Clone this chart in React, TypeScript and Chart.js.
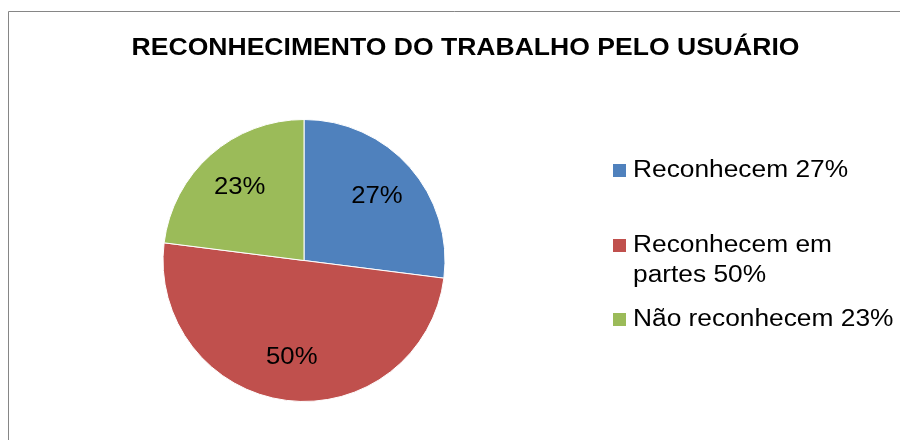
import React, { useEffect, useRef } from 'react';
import { Chart, registerables } from 'chart.js';

Chart.register(...registerables);

// ---- data ----
const TITLE = 'RECONHECIMENTO DO TRABALHO PELO USUÁRIO';
const CATEGORIES = ['Reconhecem', 'Reconhecem em partes', 'Não reconhecem'];
const VALUES = [27, 50, 23];
const COLORS = ['#4F81BD', '#C0504D', '#9BBB59'];

// ---- layout / style constants ----
const W = 892;
const H = 440;
const FONT = '"Liberation Sans", Arial, sans-serif';
const TITLE_SIZE = 23.5;
const TITLE_SCALE = 1.13;
const TITLE_X = 457.5;
const TITLE_BASELINE = 47;
const LEGEND_SIZE = 23.5;
const LEGEND_SCALE = 1.12;
const LEGEND_TEXT_X = 625;
const LEGEND_BOX_X = 605;
const LEGEND_BOX = 13;
const LEGEND_BASELINES = [169, 244, 318];
const LEGEND_LINE_H = 30;
const LEGEND_MAX_W = 268;
const LABEL_SIZE = 24.5;
const LABEL_SCALE = 1.05;
const LABEL_R = 0.69;

function fillStretched(ctx: CanvasRenderingContext2D, text: string, x: number, y: number, sx: number, align: CanvasTextAlign) {
  ctx.save();
  ctx.translate(x, y);
  ctx.scale(sx, 1);
  ctx.textAlign = align;
  ctx.fillText(text, 0, 0);
  ctx.restore();
}

function wrap(ctx: CanvasRenderingContext2D, text: string, maxW: number, sx: number): string[] {
  const words = text.split(' ');
  const lines: string[] = [];
  let cur = '';
  for (const w of words) {
    const t = cur ? cur + ' ' + w : w;
    if (cur && ctx.measureText(t).width * sx > maxW) {
      lines.push(cur);
      cur = w;
    } else cur = t;
  }
  if (cur) lines.push(cur);
  return lines;
}

const decorPlugin = {
  id: 'decor',
  beforeDraw(chart: any) {
    const ctx: CanvasRenderingContext2D = chart.ctx;
    ctx.save();
    ctx.fillStyle = '#ffffff';
    ctx.fillRect(0, 0, chart.width, chart.height);
    ctx.strokeStyle = '#868686';
    ctx.lineWidth = 1;
    ctx.beginPath();
    ctx.moveTo(0.5, chart.height);
    ctx.lineTo(0.5, 3.5);
    ctx.lineTo(chart.width, 3.5);
    ctx.stroke();
    ctx.restore();
  },
  afterDraw(chart: any) {
    const ctx: CanvasRenderingContext2D = chart.ctx;
    ctx.save();
    ctx.fillStyle = '#000000';
    ctx.textBaseline = 'alphabetic';

    // title
    ctx.font = `bold ${TITLE_SIZE}px ${FONT}`;
    fillStretched(ctx, TITLE, TITLE_X, TITLE_BASELINE, TITLE_SCALE, 'center');

    // data labels
    const meta = chart.getDatasetMeta(0);
    const total = VALUES.reduce((a, b) => a + b, 0);
    ctx.font = `${LABEL_SIZE}px ${FONT}`;
    ctx.textBaseline = 'middle';
    meta.data.forEach((arc: any, i: number) => {
      const p = arc.getProps(['x', 'y', 'startAngle', 'endAngle', 'outerRadius'], true);
      const mid = (p.startAngle + p.endAngle) / 2;
      const r = p.outerRadius * LABEL_R;
      const x = p.x + Math.cos(mid) * r;
      const y = p.y + Math.sin(mid) * r;
      const pct = Math.round((VALUES[i] / total) * 100);
      fillStretched(ctx, `${pct}%`, x, y, LABEL_SCALE, 'center');
    });

    // legend
    ctx.font = `${LEGEND_SIZE}px ${FONT}`;
    ctx.textBaseline = 'alphabetic';
    CATEGORIES.forEach((cat, i) => {
      const base = LEGEND_BASELINES[i];
      ctx.fillStyle = COLORS[i];
      ctx.fillRect(LEGEND_BOX_X, base - LEGEND_BOX, LEGEND_BOX, LEGEND_BOX);
      ctx.fillStyle = '#000000';
      const lines = wrap(ctx, `${cat} ${VALUES[i]}%`, LEGEND_MAX_W, LEGEND_SCALE);
      lines.forEach((ln, j) => {
        fillStretched(ctx, ln, LEGEND_TEXT_X, base + j * LEGEND_LINE_H, LEGEND_SCALE, 'left');
      });
    });
    ctx.restore();
  },
};

export default function App() {
  const ref = useRef<HTMLCanvasElement | null>(null);
  useEffect(() => {
    document.documentElement.style.overflow = 'hidden';
    const canvas = ref.current;
    if (!canvas) return;
    const chart = new Chart(canvas, {
      type: 'pie',
      data: {
        labels: CATEGORIES,
        datasets: [
          {
            data: VALUES,
            backgroundColor: COLORS,
            borderColor: '#ffffff',
            borderWidth: 1,
            radius: 141,
          } as any,
        ],
      },
      options: {
        responsive: false,
        animation: false,
        devicePixelRatio: 1,
        layout: { padding: { left: 146, right: 446, top: 102.5, bottom: 37.5 } },
        plugins: {
          legend: { display: false },
          title: { display: false },
          tooltip: { enabled: false },
        },
      } as any,
      plugins: [decorPlugin],
    });
    return () => chart.destroy();
  }, []);
  return (
    <div style={{ width: W, height: H, marginBottom: -8 }}>
      <canvas ref={ref} width={W} height={H} style={{ width: W, height: H, display: 'block' }} />
    </div>
  );
}
